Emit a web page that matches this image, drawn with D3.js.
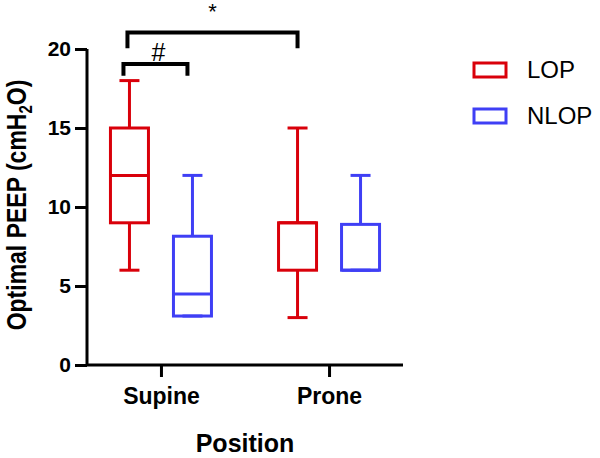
<!DOCTYPE html>
<html><head><meta charset="utf-8">
<script src="https://cdnjs.cloudflare.com/ajax/libs/d3/7.8.5/d3.min.js"></script>
<style>body{margin:0;background:#fff;} svg{display:block;font-family:"Liberation Sans",Arial,sans-serif;}</style>
</head><body>
<svg id="chart" width="600" height="458"></svg>
<script>
const positions = ["Supine", "Prone"];
const groups = ["LOP", "NLOP"];
const colors = ["#d9000a", "#3f3ff5"];
// five-number summaries: [min, q1, median, q3, max]
const lopStats = [[6, 9, 12, 15, 18], [3, 6, 9, 9, 15]];
const nlopStats = [[3.1, 3.1, 4.5, 8.15, 12], [6, 6, 6, 8.9, 12]];
const yTicks = [0, 5, 10, 15, 20];
const sigLabels = ["*", "#"];

const svg = d3.select("#chart");
const y = d3.scaleLinear().domain([0, 20]).range([365, 49]);
const x = d3.scalePoint().domain(positions).range([87, 403]).padding(0.44);
const xs = d3.scalePoint().domain(groups).range([-31.5, 31.5]);
const boxW = 38, capW = 20;

// boxes
const series = [lopStats, nlopStats];
groups.forEach((g, gi) => {
  positions.forEach((p, pi) => {
    const [mn, q1, md, q3, mx] = series[gi][pi];
    const cx = x(p) + xs(g);
    const gg = svg.append("g").attr("stroke", colors[gi]).attr("stroke-width", 3).attr("fill", "none");
    gg.append("line").attr("x1", cx).attr("x2", cx).attr("y1", y(mx)).attr("y2", y(q3));
    gg.append("line").attr("x1", cx).attr("x2", cx).attr("y1", y(q1)).attr("y2", y(mn));
    gg.append("line").attr("x1", cx - capW/2).attr("x2", cx + capW/2).attr("y1", y(mx)).attr("y2", y(mx));
    gg.append("line").attr("x1", cx - capW/2).attr("x2", cx + capW/2).attr("y1", y(mn)).attr("y2", y(mn));
    gg.append("rect").attr("x", cx - boxW/2).attr("y", y(q3)).attr("width", boxW).attr("height", y(q1) - y(q3));
    gg.append("line").attr("x1", cx - boxW/2).attr("x2", cx + boxW/2).attr("y1", y(md)).attr("y2", y(md));
  });
});

// axes
const yAxis = svg.append("g").attr("transform", "translate(87,0)")
  .call(d3.axisLeft(y).tickValues(yTicks).tickSize(12).tickPadding(4).tickSizeOuter(0));
const xAxis = svg.append("g").attr("transform", "translate(0,365)")
  .call(d3.axisBottom(x).tickSize(12).tickPadding(11).tickSizeOuter(0));
[yAxis, xAxis].forEach(a => {
  a.select(".domain").attr("stroke", "#000").attr("stroke-width", 3);
  a.selectAll(".tick line").attr("stroke", "#000").attr("stroke-width", 3);
  a.selectAll(".tick text").attr("fill", "#000").attr("font-weight", "bold")
    .attr("font-family", "Liberation Sans, Arial, sans-serif");
});
yAxis.selectAll(".tick text").attr("font-size", 21);
xAxis.selectAll(".tick text").attr("font-size", 23);
xAxis.select(".domain").attr("d", "M87,0H403");
yAxis.select(".domain").attr("d", "M0,49V365");

// axis titles
svg.append("text").attr("x", 245).attr("y", 452).attr("text-anchor", "middle")
  .attr("font-size", 25).attr("font-weight", "bold").text("Position");
const yt = svg.append("text").attr("transform", "translate(26,205) rotate(-90) scale(1,1.17)")
  .attr("text-anchor", "middle").attr("font-size", 23).attr("font-weight", "bold");
yt.append("tspan").text("Optimal PEEP (cmH");
yt.append("tspan").attr("font-size", 15).attr("dy", 5).text("2");
yt.append("tspan").attr("dy", -5).text("O)");

// significance brackets
const brackets = [
  {label: sigLabels[0], x1: x("Supine") + xs("LOP") - 2, x2: x("Prone") + xs("LOP"), top: 21.05, leg: 20.05, size: 22, off: 13, dx: 0},
  {label: sigLabels[1], x1: x("Supine") + xs("LOP") - 6, x2: x("Supine") + xs("NLOP") - 5, top: 19.05, leg: 18.3, size: 25, off: 3, dx: 3}
];
brackets.forEach(b => {
  svg.append("path").attr("fill", "none").attr("stroke", "#000").attr("stroke-width", 4)
    .attr("d", `M${b.x1},${y(b.leg)}V${y(b.top)}H${b.x2}V${y(b.leg)}`);
  svg.append("text").attr("x", (b.x1 + b.x2) / 2 + b.dx).attr("y", y(b.top) - b.off)
    .attr("text-anchor", "middle").attr("font-size", b.size).text(b.label);
});

// legend
groups.forEach((g, i) => {
  const ly = 63 + i * 46;
  svg.append("rect").attr("x", 474).attr("y", ly).attr("width", 32).attr("height", 14)
    .attr("fill", "none").attr("stroke", colors[i]).attr("stroke-width", 3);
  svg.append("text").attr("x", 527).attr("y", ly + 7).attr("dy", "0.35em")
    .attr("font-size", 24).text(g);
});
</script>
</body></html>
